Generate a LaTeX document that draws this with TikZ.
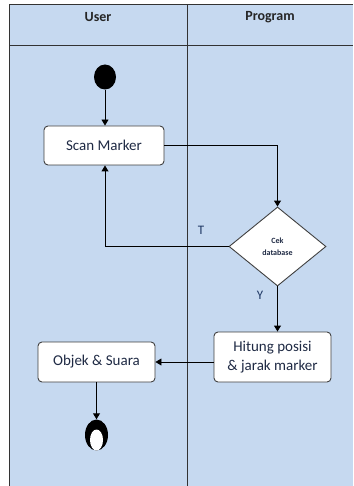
\documentclass[tikz,border=0pt]{standalone}
\usepackage{fontspec}
\setmainfont{Carlito}
\usetikzlibrary{arrows.meta,shapes.geometric}
\definecolor{lane}{HTML}{C6D9F0}
\definecolor{txt}{HTML}{1F2A44}
\definecolor{lbl}{HTML}{1F3864}
\tikzset{
  act/.style={draw=black!75, line width=0.9pt, fill=white, rounded corners=4pt, align=center, text=txt, font=\fontsize{15}{17}\selectfont, inner sep=0pt},
  flow/.style={draw=black, line width=0.9pt, -{Triangle[width=7pt,length=6pt]}},
  link/.style={draw=black, line width=0.9pt},
  hdr/.style={font=\bfseries\fontsize{14}{16}\selectfont, text=black!85},
  lab/.style={font=\fontsize{13}{15}\selectfont, text=lbl}
}
\begin{document}
\begin{tikzpicture}[x=1pt,y=-1pt]
\useasboundingbox (0,0) rectangle (353,486);
\fill[white] (0,0) rectangle (353,486);
% swimlane frame
\fill[lane] (9,5) rectangle (353,486);
\draw[black!80, line width=1pt] (9,486) -- (9,5) -- (353,5);
\draw[black!80, line width=1pt] (9,46) -- (353,46);
\draw[black!80, line width=1pt] (187,5) -- (187,486);
\node[hdr] (huser) at (98,17) {User};
\node[hdr] (hprog) at (270,17) {Program};
% start
\node[ellipse, fill=black, minimum width=22pt, minimum height=25pt, inner sep=0pt] (start) at (105,77) {};
% activities
\node[act, minimum width=120pt, minimum height=39pt] (scan) at (104,145.5) {Scan Marker};
\node[diamond, draw=black!75, line width=0.9pt, fill=white, minimum width=97pt, minimum height=79pt, inner sep=0pt, aspect=1.23, align=center, font=\bfseries\fontsize{8}{12}\selectfont, text=txt] (cek) at (277.5,246.5) {Cek\\database};
\node[act, minimum width=117pt, minimum height=50pt, font=\fontsize{15}{19}\selectfont] (hit) at (272.5,357) {Hitung posisi\\\& jarak marker};
\node[act, minimum width=117pt, minimum height=40pt] (obj) at (96.5,362) {Objek \& Suara};
% end
\node[ellipse, fill=black, minimum width=23pt, minimum height=31pt, inner sep=0pt] (stop) at (96.5,435) {};
\node[ellipse, fill=white, minimum width=13pt, minimum height=21pt, inner sep=0pt] (stopin) at (96.5,440) {};
% connectors
\draw[flow] (start) -- (start |- scan.north);
\draw[flow] (scan.east) -| (cek.north);
\draw[flow] (cek.west) -| (start |- scan.south);
\draw[flow] (cek.south) -- (cek.south |- hit.north);
\draw[flow] (hit.west |- obj.east) -- (obj.east);
\draw[flow] (obj.south) -- (stop.north);
\node[lab] (t) at (201,230) {T};
\node[lab] (y) at (260,295) {Y};
\end{tikzpicture}
\end{document}
